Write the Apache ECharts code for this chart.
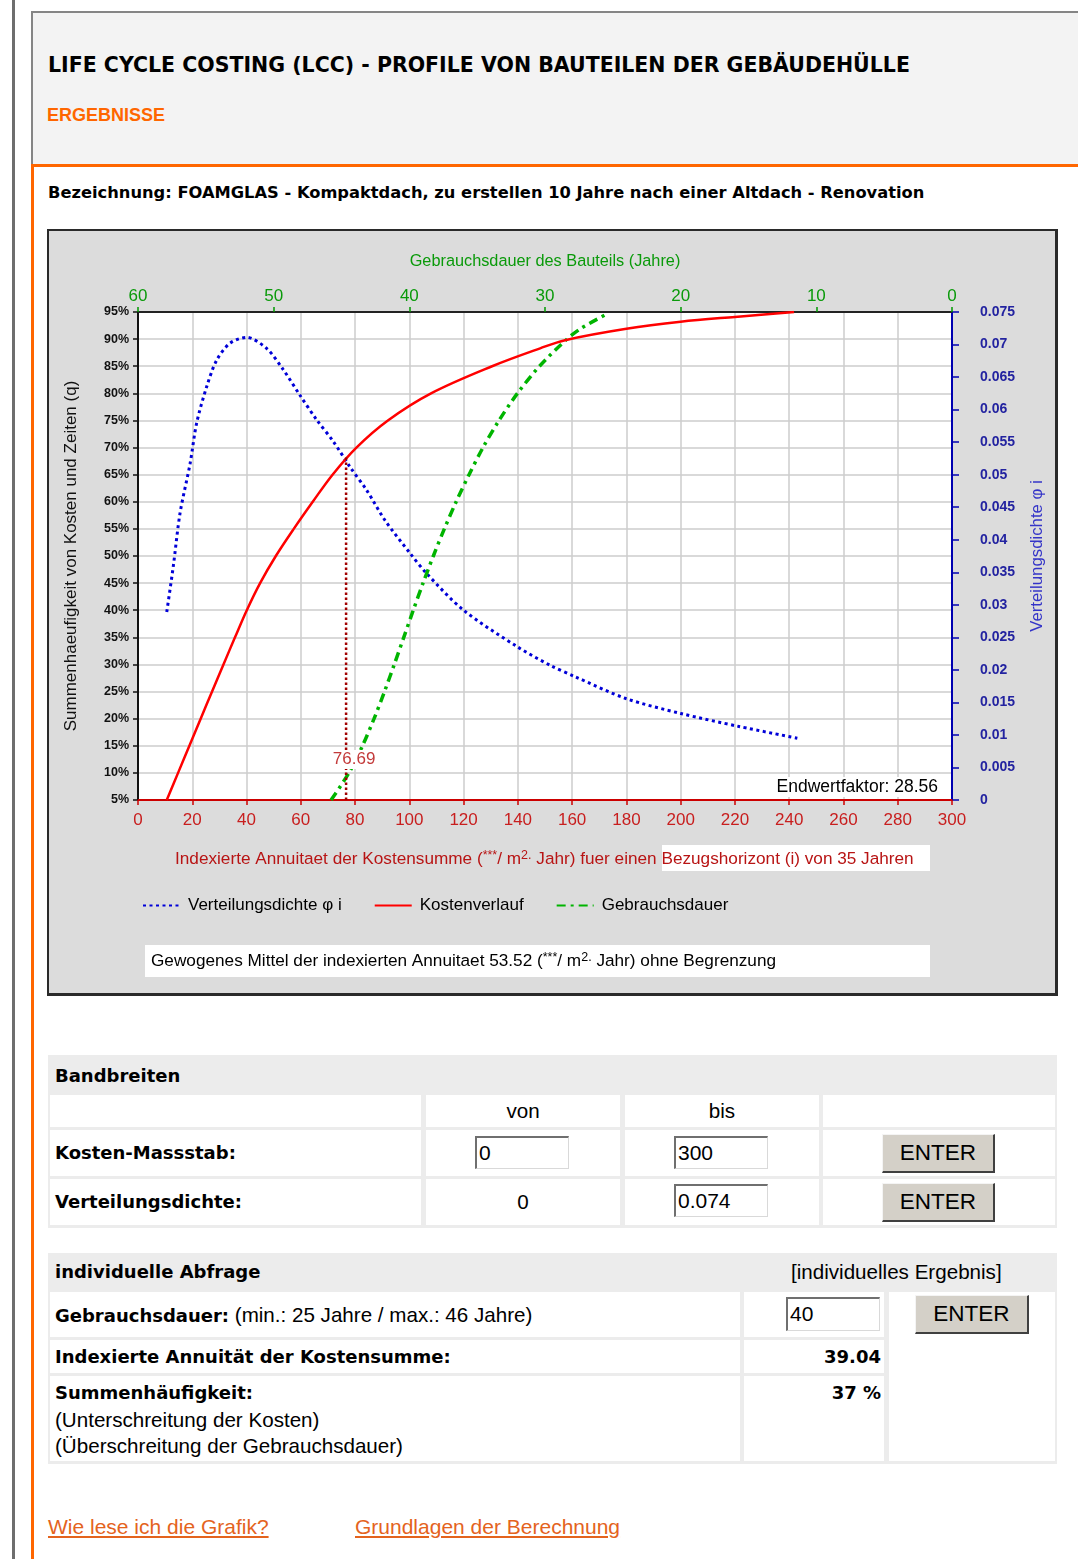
<!DOCTYPE html>
<html lang="de">
<head>
<meta charset="utf-8">
<title>LCC - Ergebnisse</title>
<script src="https://cdn.jsdelivr.net/npm/echarts@6.0.0/dist/echarts.min.js"></script>
<style>
html,body{margin:0;padding:0;background:#fff;}
body{position:relative;width:1078px;height:1559px;overflow:hidden;font-family:"DejaVu Sans",sans-serif;color:#000;}
.abs{position:absolute;}
.t{position:absolute;white-space:nowrap;line-height:22px;}
.b{font-weight:bold;font-size:18px;font-family:"DejaVu Sans",sans-serif;}
.n{font-size:20.6px;font-family:"Liberation Sans",Arial,sans-serif;}
.cell{position:absolute;background:#fff;}
.inp{position:absolute;box-sizing:border-box;background:#fff;border-top:2px solid #6f6f6f;border-left:2px solid #6f6f6f;border-right:1px solid #d9d9d9;border-bottom:1px solid #d9d9d9;font-family:"Liberation Sans",Arial,sans-serif;font-size:21px;line-height:30px;padding-left:2px;white-space:nowrap;}
.btn{position:absolute;box-sizing:border-box;background:#d4d0c8;border-top:1px solid #f4f4f4;border-left:1px solid #f4f4f4;border-right:2px solid #404040;border-bottom:2px solid #404040;font-family:"Liberation Sans",sans-serif;font-size:22.5px;text-align:center;line-height:35px;}
a.lnk{position:absolute;white-space:nowrap;color:#e4631d;text-decoration:underline;font-family:"Liberation Sans",Arial,sans-serif;font-size:21px;line-height:22px;}
</style>
</head>
<body>
<div class="abs" style="left:12px;top:0;width:3px;height:1559px;background:#6e6e6e;"></div>
<div class="abs" style="left:31px;top:11px;width:1100px;height:151px;background:#f3f3f3;border-top:2px solid #858585;border-left:2px solid #858585;border-bottom:3px solid #ff6600;"></div>
<div class="abs" style="left:31px;top:164px;width:3px;height:1400px;background:#ff6600;"></div>

<div class="t" style="left:48px;top:54px;font-weight:bold;font-size:20.5px;">LIFE CYCLE COSTING (LCC) - PROFILE VON BAUTEILEN DER GEBÄUDEHÜLLE</div>
<div class="t" style="left:47px;top:104px;font-family:'Liberation Sans',sans-serif;font-weight:bold;font-size:18px;color:#ff6600;">ERGEBNISSE</div>
<div class="t" style="left:48px;top:182px;font-weight:bold;font-size:16.3px;">Bezeichnung: FOAMGLAS - Kompaktdach, zu erstellen 10 Jahre nach einer Altdach - Renovation</div>

<div class="abs" style="left:47px;top:229px;width:1006px;height:762px;border:2px solid #2a2a2a;border-right-width:3px;border-bottom-width:3px;">
  <div id="chart" style="width:1006px;height:762px;"></div>
</div>

<!-- Bandbreiten -->
<div class="abs" style="left:48px;top:1055px;width:1009px;height:173px;background:#ececec;"></div>
<div class="t b" style="left:55px;top:1065px;">Bandbreiten</div>
<div class="cell" style="left:50px;top:1095px;width:371px;height:32px;"></div>
<div class="cell" style="left:426px;top:1095px;width:194px;height:32px;"></div>
<div class="cell" style="left:625px;top:1095px;width:194px;height:32px;"></div>
<div class="cell" style="left:823px;top:1095px;width:232px;height:32px;"></div>
<div class="cell" style="left:50px;top:1130px;width:371px;height:46px;"></div>
<div class="cell" style="left:426px;top:1130px;width:194px;height:46px;"></div>
<div class="cell" style="left:625px;top:1130px;width:194px;height:46px;"></div>
<div class="cell" style="left:823px;top:1130px;width:232px;height:46px;"></div>
<div class="cell" style="left:50px;top:1179px;width:371px;height:46px;"></div>
<div class="cell" style="left:426px;top:1179px;width:194px;height:46px;"></div>
<div class="cell" style="left:625px;top:1179px;width:194px;height:46px;"></div>
<div class="cell" style="left:823px;top:1179px;width:232px;height:46px;"></div>
<div class="t n" style="left:426px;width:194px;text-align:center;top:1100px;">von</div>
<div class="t n" style="left:625px;width:194px;text-align:center;top:1100px;">bis</div>
<div class="t b" style="left:55px;top:1142px;">Kosten-Massstab:</div>
<div class="t b" style="left:55px;top:1191px;">Verteilungsdichte:</div>
<div class="t n" style="left:426px;width:194px;text-align:center;top:1191px;">0</div>
<div class="inp" style="left:475px;top:1136px;width:94px;height:33px;">0</div>
<div class="inp" style="left:674px;top:1136px;width:94px;height:33px;">300</div>
<div class="inp" style="left:674px;top:1184px;width:94px;height:33px;">0.074</div>
<div class="btn" style="left:882px;top:1134px;width:113px;height:39px;">ENTER</div>
<div class="btn" style="left:882px;top:1183px;width:113px;height:39px;">ENTER</div>

<!-- individuelle Abfrage -->
<div class="abs" style="left:48px;top:1253px;width:1009px;height:211px;background:#ececec;"></div>
<div class="t b" style="left:55px;top:1261px;">individuelle Abfrage</div>
<div class="t n" style="left:791px;top:1261px;">[individuelles Ergebnis]</div>
<div class="cell" style="left:50px;top:1292px;width:690px;height:45px;"></div>
<div class="cell" style="left:744px;top:1292px;width:140px;height:45px;"></div>
<div class="cell" style="left:889px;top:1292px;width:166px;height:169px;"></div>
<div class="cell" style="left:50px;top:1340px;width:690px;height:33px;"></div>
<div class="cell" style="left:744px;top:1340px;width:140px;height:33px;"></div>
<div class="cell" style="left:50px;top:1376px;width:690px;height:85px;"></div>
<div class="cell" style="left:744px;top:1376px;width:140px;height:85px;"></div>
<div class="t" style="left:55px;top:1304px;"><span class="b">Gebrauchsdauer:</span><span class="n"> (min.: 25 Jahre / max.: 46 Jahre)</span></div>
<div class="inp" style="left:786px;top:1297px;width:94px;height:34px;">40</div>
<div class="btn" style="left:915px;top:1295px;width:114px;height:39px;">ENTER</div>
<div class="t b" style="left:55px;top:1346px;">Indexierte Annuität der Kostensumme:</div>
<div class="t b" style="right:197px;top:1346px;">39.04</div>
<div class="t b" style="left:55px;top:1382px;">Summenhäufigkeit:</div>
<div class="t b" style="right:197px;top:1382px;">37 %</div>
<div class="t n" style="left:55px;top:1409px;">(Unterschreitung der Kosten)</div>
<div class="t n" style="left:55px;top:1435px;">(Überschreitung der Gebrauchsdauer)</div>

<a class="lnk" style="left:48px;top:1516px;">Wie lese ich die Grafik?</a>
<a class="lnk" style="left:355px;top:1516px;">Grundlagen der Berechnung</a>

<script>
// ---------- data ----------
const costTicks = [0, 20, 40, 60, 80, 100, 120, 140, 160, 180, 200, 220, 240, 260, 280, 300];
const yearTicks = [0, 10, 20, 30, 40, 50, 60];
const pctTicks = [5, 10, 15, 20, 25, 30, 35, 40, 45, 50, 55, 60, 65, 70, 75, 80, 85, 90, 95];
const densTicks = [0, 0.005, 0.01, 0.015, 0.02, 0.025, 0.03, 0.035, 0.04, 0.045, 0.05, 0.055, 0.06, 0.065, 0.07, 0.075];

// Verteilungsdichte (cost -> density, right axis)
const densCost  = [10.6, 13, 15.5, 19.2, 21.6, 25.3, 29, 33.9, 40, 47.4, 53.6, 59.7, 65.9, 72, 78.1, 84.3, 91, 100.3, 106.4, 119.9, 139.6, 151.9, 160.8, 179.8, 200, 221.5, 243];
const densValue = [0.0289, 0.0359, 0.0441, 0.0517, 0.0579, 0.0635, 0.0676, 0.0702, 0.0711, 0.0694, 0.0661, 0.0622, 0.0584, 0.0551, 0.0512, 0.0476, 0.0430, 0.0379, 0.0348, 0.0292, 0.0236, 0.0207, 0.0190, 0.0156, 0.0133, 0.0113, 0.0095];

// Kostenverlauf (cost -> cumulative %)
const kostCost = [10.6, 14.77, 18.94, 23.1, 27.3, 31.5, 35.75, 40.1, 45, 50.8, 57.4, 64.4, 71.7, 80.5, 92.1, 108, 130.5, 148.2, 157.4, 180, 200, 220, 241.8];
const kostPct  = [5, 10, 15, 20, 25, 30, 35, 40, 45, 50, 55, 60, 65, 70, 75, 80, 85, 88.3, 89.8, 91.9, 93.2, 94.1, 95];

// Gebrauchsdauer (years -> cumulative %)
const dauerYears = [45.77, 44.45, 43.45, 42.6, 41.83, 41.11, 40.41, 39.71, 38.99, 38.23, 37.42, 36.55, 35.6, 34.57, 33.39, 32.03, 30.41, 28.47, 27.33, 25.31];
const dauerPct   = [5, 10, 15, 20, 25, 30, 35, 40, 45, 50, 55, 60, 65, 70, 75, 80, 85, 89.8, 92, 94.8];

// reference line (Bezugshorizont)
const refCost = [76.69, 76.69];
const refPct  = [5, 68.2];

const endwertfaktor = 28.56;
const gewogenesMittel = 53.52;
const horizontYears = 35;

// ---------- chart ----------
const FONT = "'Liberation Sans', Arial, sans-serif";
const zip = (a, b) => a.map((v, i) => [v, b[i]]);
const step = arr => arr[1] - arr[0];
const fmtNum = v => String(parseFloat(v.toFixed(4)));

const chart = echarts.init(document.getElementById('chart'));

const option = {
  backgroundColor: '#dcdcdc',
  animation: false,
  grid: { left: 89, top: 81, width: 814, height: 488, show: true, backgroundColor: '#ffffff', borderWidth: 0, containLabel: false },
  legend: {
    data: ['Verteilungsdichte \u03c6 i', 'Kostenverlauf', 'Gebrauchsdauer'],
    left: 88, top: 661, itemWidth: 37, itemHeight: 14, itemGap: 32,
    itemStyle: { opacity: 0 },
    textStyle: { fontFamily: FONT, fontSize: 17, color: '#000', padding: [0, 0, 0, 3] }
  },
  xAxis: [
    {
      type: 'value', position: 'bottom', min: costTicks[0], max: costTicks[costTicks.length - 1], interval: step(costTicks),
      axisLine: { show: true, lineStyle: { color: '#cc0000', width: 2 } },
      axisTick: { show: true, length: 5, lineStyle: { color: '#cc0000', width: 1.5 } },
      axisLabel: { color: '#c81e1e', fontFamily: FONT, fontSize: 17, margin: 12 },
      splitLine: { show: true, lineStyle: { color: '#cdcdcd', width: 1.5 } }
    },
    {
      type: 'value', position: 'top', inverse: true, min: yearTicks[0], max: yearTicks[yearTicks.length - 1], interval: step(yearTicks),
      axisLine: { show: true, lineStyle: { color: '#222', width: 2 } },
      axisTick: { show: true, length: 5, lineStyle: { color: '#009900', width: 1.5 } },
      axisLabel: { color: '#0a9a0a', fontFamily: FONT, fontSize: 17, margin: 7 },
      splitLine: { show: false },
      name: 'Gebrauchsdauer des Bauteils (Jahre)', nameLocation: 'middle', nameGap: 42,
      nameTextStyle: { color: '#0a9a0a', fontFamily: FONT, fontSize: 16.3 }
    }
  ],
  yAxis: [
    {
      type: 'value', position: 'left', min: pctTicks[0], max: pctTicks[pctTicks.length - 1], interval: step(pctTicks),
      axisLine: { show: true, lineStyle: { color: '#111', width: 2 } },
      axisTick: { show: true, length: 5, lineStyle: { color: '#111', width: 1.5 } },
      axisLabel: { color: '#111', fontFamily: FONT, fontSize: 12.5, fontWeight: 'bold', margin: 9, formatter: v => v + '%' },
      splitLine: { show: true, lineStyle: { color: '#cdcdcd', width: 1.5 } },
      name: 'Summenhaeufigkeit von Kosten und Zeiten (q)', nameLocation: 'middle', nameGap: 58, nameRotate: 90,
      nameTextStyle: { color: '#111', fontFamily: FONT, fontSize: 17 }
    },
    {
      type: 'value', position: 'right', min: densTicks[0], max: densTicks[densTicks.length - 1], interval: step(densTicks),
      axisLine: { show: true, lineStyle: { color: '#0000b0', width: 2 } },
      axisTick: { show: true, length: 7, lineStyle: { color: '#0000b0', width: 1.5 } },
      axisLabel: { color: '#2323a0', fontFamily: FONT, fontSize: 14, fontWeight: 'bold', margin: 28, formatter: v => fmtNum(v) },
      splitLine: { show: false },
      name: 'Verteilungsdichte \u03c6 i', nameLocation: 'middle', nameGap: 77, nameRotate: 90,
      nameTextStyle: { color: '#3434c8', fontFamily: FONT, fontSize: 16.8 }
    }
  ],
  series: [
    {
      name: 'Verteilungsdichte \u03c6 i', type: 'line', xAxisIndex: 0, yAxisIndex: 1,
      data: zip(densCost, densValue), symbol: 'none', smooth: 0.3,
      lineStyle: { color: '#0000d8', width: 3, type: [3, 3.5], cap: 'butt' }, itemStyle: { color: '#0000d8' }, z: 3
    },
    {
      name: 'Kostenverlauf', type: 'line', xAxisIndex: 0, yAxisIndex: 0,
      data: zip(kostCost, kostPct), symbol: 'none', smooth: 0.35,
      lineStyle: { color: '#ff0000', width: 2.5 }, itemStyle: { color: '#ff0000' }, z: 4
    },
    {
      name: 'Gebrauchsdauer', type: 'line', xAxisIndex: 1, yAxisIndex: 0,
      data: zip(dauerYears, dauerPct), symbol: 'none', smooth: 0.3,
      lineStyle: { color: '#00b400', width: 3.5, type: [9, 5, 3, 5], cap: 'butt' }, itemStyle: { color: '#00b400' }, z: 3
    },
    {
      name: 'Bezugshorizont', type: 'line', xAxisIndex: 0, yAxisIndex: 0,
      data: refCost.map((c, i) => ({
        value: [c, refPct[i]],
        label: i === 0 ? {
          show: true, position: 'top', distance: 31, offset: [8, 0],
          formatter: p => p.value[0].toFixed(2),
          color: '#c33a3a', fontFamily: FONT, fontSize: 17, backgroundColor: '#ffffff', padding: [1, 2]
        } : { show: false }
      })),
      symbol: 'circle', symbolSize: 0, showSymbol: true,
      lineStyle: { color: '#a00000', width: 2.5, type: [2.5, 2.5], cap: 'butt' }, itemStyle: { color: '#a00000' }, z: 6
    }
  ],
  graphic: [
    {
      type: 'text', right: 115, top: 546, z: 10,
      style: { text: 'Endwertfaktor: ' + endwertfaktor.toFixed(2), fill: '#000', font: "17.5px " + FONT, backgroundColor: '#fff', padding: [1, 2] }
    },
    { type: 'rect', shape: { x: 613, y: 614, width: 268, height: 26 }, style: { fill: '#ffffff' }, z: 1 },
    {
      type: 'text', left: 126, top: 618, z: 2,
      style: {
        text: '{a|Indexierte Annuitaet der Kostensumme (}{s|***}{a|/ m}{s|2.}{a| Jahr) fuer einen Bezugshorizont (i) von ' + horizontYears + ' Jahren}',
        rich: {
          a: { fill: '#b81414', fontFamily: FONT, fontSize: 17.2, lineHeight: 20 },
          s: { fill: '#b81414', fontFamily: FONT, fontSize: 12.5, verticalAlign: 'top' }
        }
      }
    },
    { type: 'rect', shape: { x: 96, y: 714, width: 785, height: 32 }, style: { fill: '#ffffff' }, z: 1 },
    {
      type: 'text', left: 102, top: 720, z: 2,
      style: {
        text: '{a|Gewogenes Mittel der indexierten Annuitaet ' + gewogenesMittel.toFixed(2) + ' (}{s|***}{a|/ m}{s|2.}{a| Jahr) ohne Begrenzung}',
        rich: {
          a: { fill: '#000', fontFamily: FONT, fontSize: 17.2, lineHeight: 20 },
          s: { fill: '#000', fontFamily: FONT, fontSize: 12.5, verticalAlign: 'top' }
        }
      }
    }
  ]
};
chart.setOption(option);
</script>
</body>
</html>
